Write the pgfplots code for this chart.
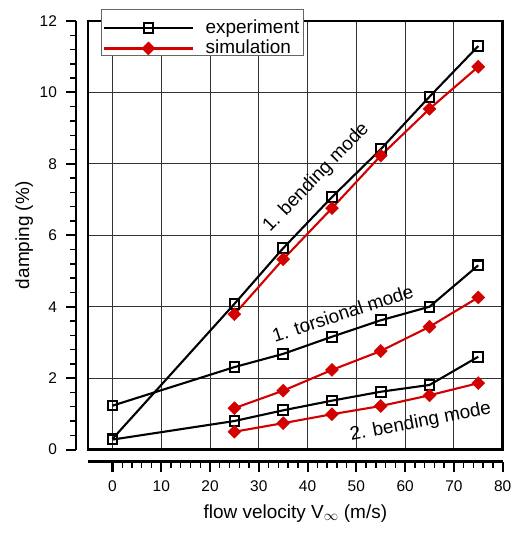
\documentclass[border=0pt]{standalone}
\usepackage{fontspec}
\setmainfont{Liberation Sans}
\usepackage{pgfplots}
\pgfplotsset{compat=1.18}
\definecolor{simred}{RGB}{210,0,0}
\pgfplotsset{
 common/.style={
  scale only axis,
  width=414bp, height=428bp,
  xmin=-5, xmax=80, ymin=0, ymax=12,
  xtick={0,10,...,80}, ytick={0,2,...,12},
  minor x tick num=4, minor y tick num=4,
 },
}
\begin{document}
\begin{tikzpicture}
% separate x axis line, shifted down
\begin{axis}[common, at={(0bp,-12bp)}, anchor=south west,
 axis x line=bottom, axis y line=none,
 axis line style={line width=2.6bp,-},
 tick align=outside,
 major tick length=10bp, minor tick length=6bp,
 major tick style={line width=2bp, black},
 minor tick style={line width=1.4bp, black},
 xticklabel style={font=\fontsize{15.5}{18}\selectfont, inner sep=3bp, yshift=-6bp},
 /pgf/number format/assume math mode=true,
 xlabel={flow velocity V$_{\infty}$ (m/s)},
 xlabel style={font=\fontsize{19}{22}\selectfont, yshift=-6bp},
]
\end{axis}
% separate y axis line, shifted left
\begin{axis}[common, at={(-12bp,0bp)}, anchor=south west,
 axis y line=left, axis x line=none,
 axis line style={line width=2.6bp,-},
 tick align=outside,
 major tick length=10bp, minor tick length=6bp,
 major tick style={line width=2bp, black},
 minor tick style={line width=1.4bp, black},
 yticklabel style={font=\fontsize{15.5}{18}\selectfont, inner sep=3bp, xshift=-6bp},
 /pgf/number format/assume math mode=true,
 ylabel={damping (\%)},
 ylabel style={font=\fontsize{19}{22}\selectfont},
]
\end{axis}
% main frame with grid and data
\begin{axis}[common, at={(0bp,0bp)}, anchor=south west,
 name=main,
 clip=false,
 axis line style={draw=none},
 xticklabels={}, yticklabels={},
 major tick length=0bp, minor tick length=0bp,
 grid=major,
 grid style={line width=0.8bp, black!80},
 legend style={at={(axis description cs:0.031,1.028)}, anchor=north west,
   draw=black!60, line width=0.8bp, fill=white,
   font=\fontsize{19}{22}\selectfont, inner xsep=2bp, inner ysep=0bp,
   nodes={inner ysep=0bp},
   row sep=4bp, cells={anchor=base west}},
 legend image code/.code={\draw[#1] (0bp,5.5bp) -- (88bp,5.5bp); \draw[#1] plot coordinates {(44bp,5.5bp)}; \path (98bp,5.5bp);},
 exp/.style={black, line width=2.1bp, mark=square, mark size=4.8bp, mark options={solid, line width=2bp}},
 sim/.style={simred, line width=2.1bp, mark=square*, mark size=4.6bp, mark options={solid, rotate=45, fill=simred, draw=simred, line width=0.4bp}},
]
\coordinate (bl) at (rel axis cs:0,0);
\coordinate (tr) at (rel axis cs:1,1);
\draw[line width=2.6bp] (rel axis cs:0,0) rectangle (rel axis cs:1,1);
% 1. bending mode
\addplot[exp] coordinates {(0,0.30) (25,4.08) (35,5.64) (45,7.07) (55,8.41) (65,9.88) (75,11.30)};
\addlegendentry{\rule[-5bp]{0pt}{29bp}experiment}
\addplot[sim] coordinates {(25,3.79) (35,5.33) (45,6.76) (55,8.23) (65,9.54) (75,10.72)};
\addlegendentry{\rule[-5bp]{0pt}{20bp}simulation}
% 1. torsional mode
\addplot[exp, forget plot] coordinates {(0,1.23) (25,2.31) (35,2.68) (45,3.16) (55,3.62) (65,4.00) (75,5.16)};
\addplot[sim, forget plot] coordinates {(25,1.16) (35,1.65) (45,2.23) (55,2.76) (65,3.44) (75,4.26)};
% 2. bending mode
\addplot[exp, forget plot] coordinates {(0,0.28) (25,0.80) (35,1.10) (45,1.37) (55,1.62) (65,1.81) (75,2.60)};
\addplot[sim, forget plot] coordinates {(25,0.50) (35,0.74) (45,0.99) (55,1.22) (65,1.52) (75,1.86)};
\node[rotate=46, font=\fontsize{19}{22}\selectfont] at (axis cs:41.8,7.61) {1. bending mode};
\node[rotate=18, font=\fontsize{19}{22}\selectfont] at (axis cs:47.2,3.82) {1. torsional mode};
\node[rotate=11, font=\fontsize{19}{22}\selectfont] at (axis cs:63.2,0.77) {2. bending mode};
\end{axis}
\pgfresetboundingbox
\path ([shift={(-88bp,-85.3bp)}]bl) rectangle ([shift={(22bp,21bp)}]tr);
\end{tikzpicture}
\end{document}
